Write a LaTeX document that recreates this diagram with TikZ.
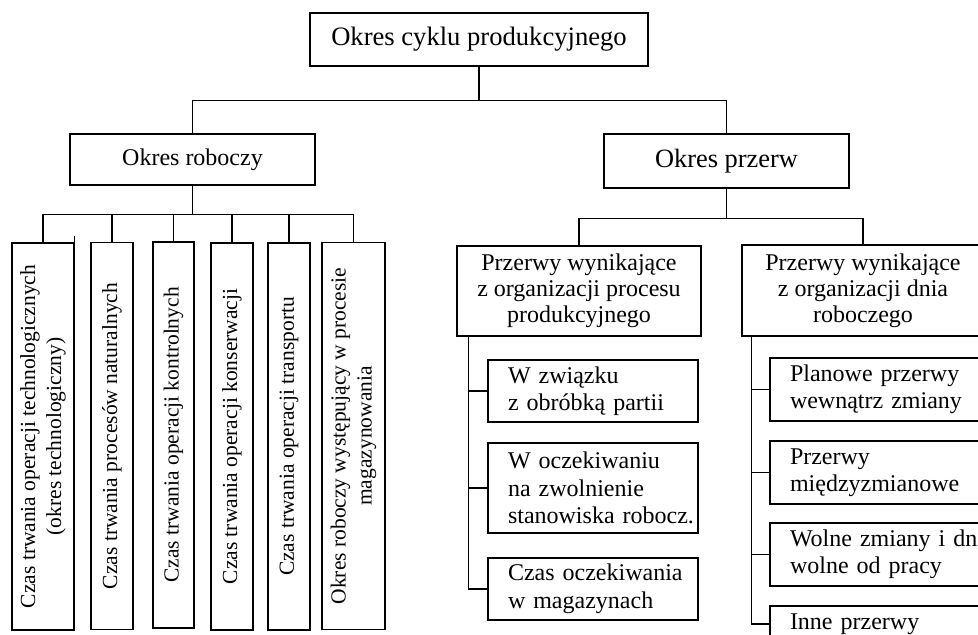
\documentclass[tikz,border=0pt]{standalone}
\usepackage{fontspec}
\setmainfont{Liberation Serif}
\tikzset{
  blok/.style={draw, line width=1.3pt, inner sep=0pt, align=center, font=\fontsize{24}{26}\selectfont},
  pion/.style={blok, rotate=90, minimum width=387pt, font=\fontsize{21.5}{26}\selectfont},
  lewy/.style={draw, line width=1.3pt, inner sep=0pt, text width=210pt, align=left,
    execute at begin node={\leftskip=20pt}, font=\fontsize{24}{27.5}\selectfont},
  prawy/.style={lewy, text width=240pt, minimum height=63pt},
}

\begin{document}
\begin{tikzpicture}[x=1pt, y=-1pt, line width=1.3pt]
  \useasboundingbox (0,0) rectangle (978,635);
  \clip (0,0) rectangle (978,635);
  % 上段
  \node[blok, minimum width=338pt, minimum height=53pt, font=\fontsize{26.6}{30}\selectfont] (cykl) at (479,39.5) {Okres cyklu produkcyjnego};
  \node[blok, minimum width=245pt, minimum height=51pt] (roboczy) at (192.5,159.5) {Okres roboczy};
  \node[blok, minimum width=245pt, minimum height=54pt, font=\fontsize{26.4}{30}\selectfont] (przerw) at (726.5,161) {Okres przerw};
  % 縦書きの箱
  \node[pion, minimum height=62pt] (v1) at (43,436.5) {Czas trwania operacji technologicznych\\(okres technologiczny)};
  \node[pion, minimum height=42pt] (v2) at (112,436) {Czas trwania procesów naturalnych};
  \node[pion, minimum height=41pt, minimum width=386pt] (v3) at (173.5,435) {Czas trwania operacji kontrolnych};
  \node[pion, minimum height=42pt] (v4) at (232,436.5) {Czas trwania operacji konserwacji};
  \node[pion, minimum height=42pt] (v5) at (289,436.5) {Czas trwania operacji transportu};
  \node[pion, minimum height=63pt] (v6) at (353.5,436) {Okres roboczy występujący w procesie\\magazynowania};
  % 右側の箱
  \node[blok, minimum width=244pt, minimum height=90pt] (orgproc) at (579,291) {Przerwy wynikające\\z organizacji procesu\\produkcyjnego};
  \node[blok, minimum width=242pt, minimum height=91pt] (orgdnia) at (863,290.5) {Przerwy wynikające\\z organizacji dnia\\roboczego};
  \node[lewy, minimum height=62pt] (s1) at (593,391) {W związku\\z obróbką partii};
  \node[lewy, minimum height=90pt] (s2) at (593,488) {W oczekiwaniu\\na zwolnienie\\stanowiska robocz.};
  \node[lewy, minimum height=62pt] (s3) at (593,589) {Czas oczekiwania\\w magazynach};
  \node[prawy] (p1) at (890,389.5) {Planowe przerwy\\wewnątrz zmiany};
  \node[prawy] (p2) at (890,472.5) {Przerwy\\międzyzmianowe};
  \node[prawy] (p3) at (890,554.5) {Wolne zmiany i dni\\wolne od pracy};
  \node[prawy, minimum height=36pt] (p4) at (890,624) {Inne przerwy};
  % 接続線
  \draw (cykl.south) -- ++(0,34) coordinate (w1);
  \draw (roboczy.north) |- (w1) -| (przerw.north);
  \draw (roboczy.south) -- ++(0,29) coordinate (w2);
  \draw (v1.east) |- (w2) -| (v6.east);
  \foreach \i in {2,...,5}
    \draw (v\i.east) -- (v\i.east |- w2);
  \draw ([yshift=6pt]v1.south east) -- ++(0,35);
  \draw (przerw.south) -- ++(0,30) coordinate (w3);
  \draw (orgproc.north) |- (w3) -| (orgdnia.north);
  % 左の縦線
  \draw ([xshift=12pt]orgproc.south west) coordinate (r1) |- (s3.west);
  \foreach \s in {s1,s2}
    \draw (\s.west) -- (\s.west -| r1);
  \draw ([xshift=10pt]orgdnia.south west) coordinate (r2) |- (p4.west);
  \foreach \p in {p1,p2,p3}
    \draw (\p.west) -- (\p.west -| r2);
\end{tikzpicture}
\end{document}
